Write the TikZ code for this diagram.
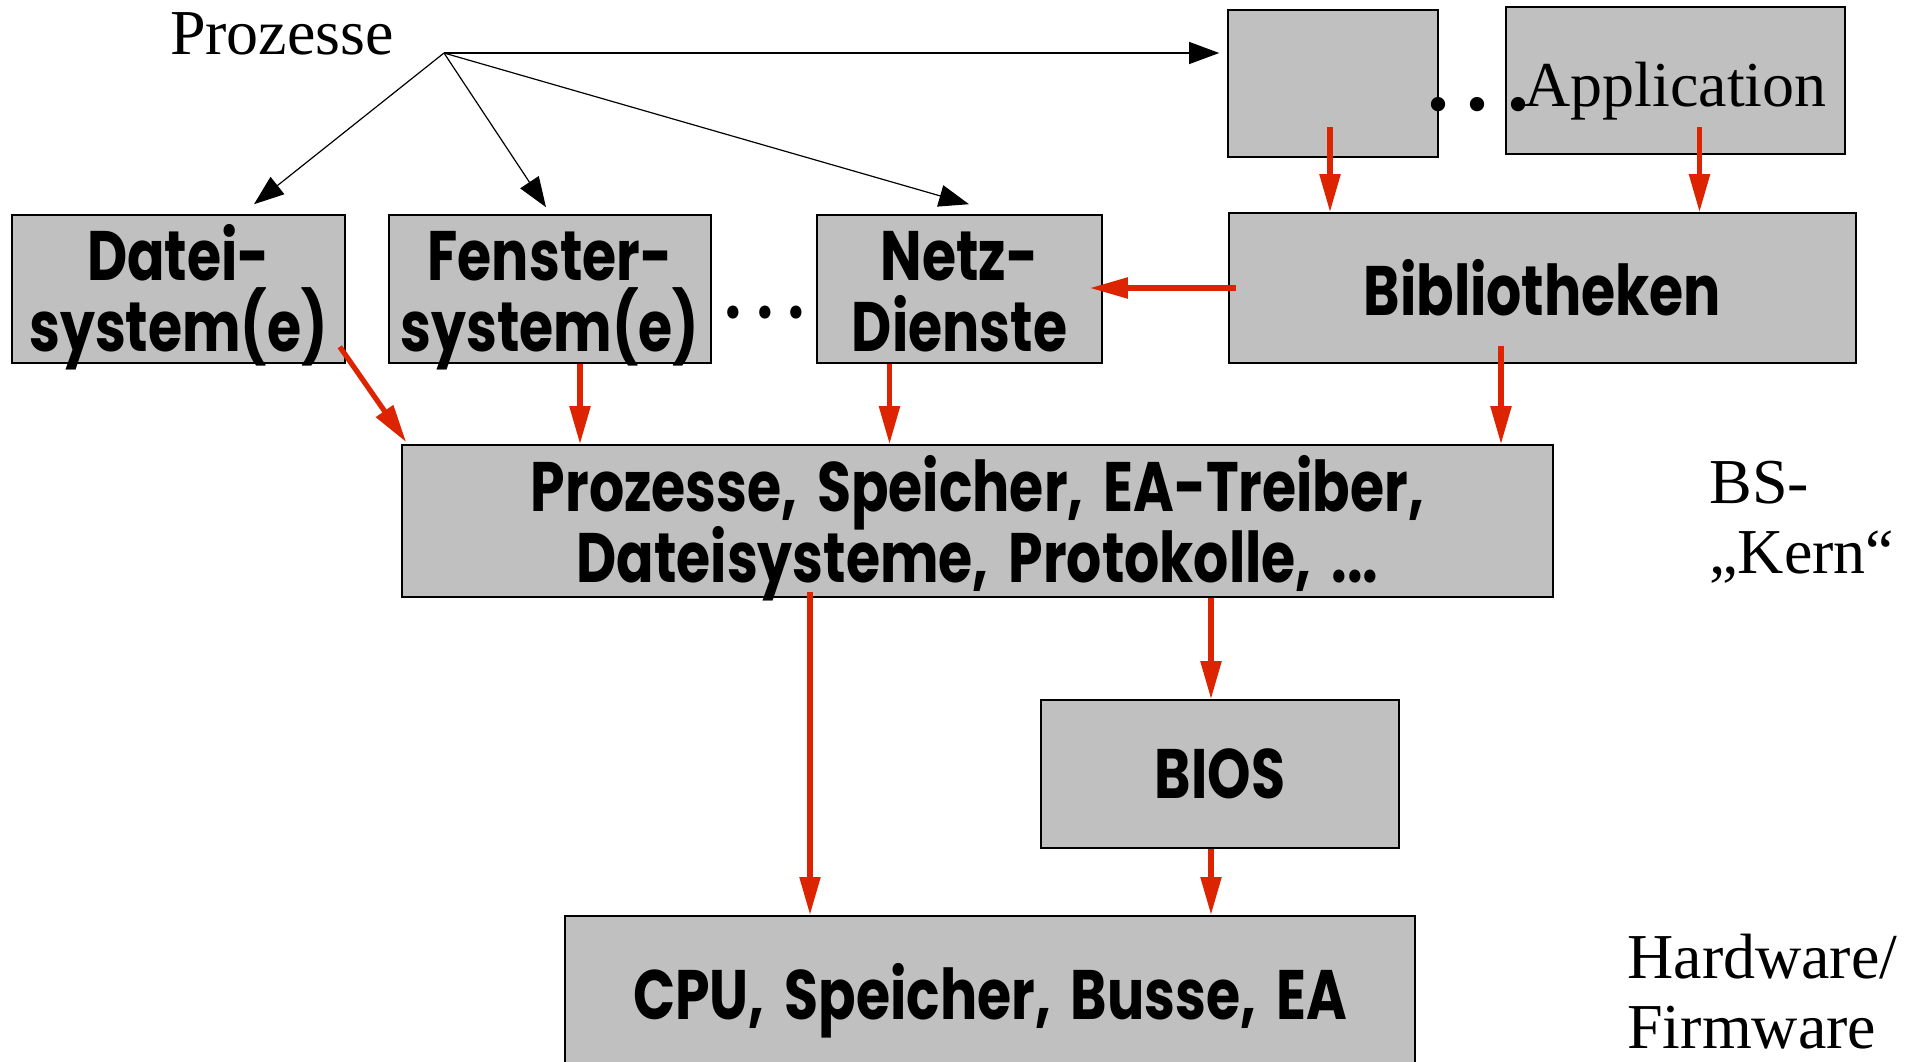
\documentclass[tikz,border=0pt]{standalone}
\usepackage{fontspec}
\setmainfont{Liberation Serif}
\newfontfamily\gothic{Poppins}[FakeStretch=0.79,WordSpace=1.7]
\usetikzlibrary{arrows.meta}
\definecolor{boxgray}{RGB}{192,192,192}
\definecolor{arrred}{RGB}{221,36,0}
% two centred lines with fixed baselines: #1 = top to first baseline, #2 = last baseline to bottom
\newcommand\twolines[4]{\rule{0pt}{#1}\smash{#3}\\\smash{#4}\rule[-#2]{0pt}{#2}}
\begin{document}
\begin{tikzpicture}[x=0.5pt,y=-0.5pt,
  box/.style={draw=black,line width=0.8pt,fill=boxgray,inner sep=0pt,align=center,
    font=\gothic\bfseries\fontsize{35}{35.5}\selectfont},
  serif/.style={inner sep=0pt,font=\fontsize{32}{35}\selectfont,align=left},
  rarrow/.style={draw=arrred,line width=2.6pt,-{Triangle[length=19pt,width=10pt]}},
  barrow/.style={draw=black,line width=0.6pt,-{Triangle[length=15pt,width=11pt]}}]
\useasboundingbox (0,0) rectangle (1918,1061);
% boxes
\node[box,minimum width=105pt,minimum height=73.5pt] (app1) at (1333,83.5) {};
\node[box,minimum width=169.5pt,minimum height=73.5pt,font=\fontsize{32}{35}\selectfont,
  text height=25.5pt,text depth=0pt] (app2) at (1675.5,80.5) {Application};
\node[box,minimum width=166.5pt,minimum height=74pt] (datei) at (178.5,289) {\twolines{32.5pt}{6pt}{Datei-}{system(e)}};
\node[box,minimum width=161pt,minimum height=74pt] (fenster) at (550,289) {\twolines{32.5pt}{6pt}{Fenster-}{system(e)}};
\node[box,minimum width=142.5pt,minimum height=74pt] (netz) at (959.5,289) {\twolines{32.5pt}{6pt}{Netz-}{Dienste}};
\node[box,minimum width=313.5pt,minimum height=75pt] (bib) at (1542.5,288) {Bibliotheken};
\node[box,minimum width=575.5pt,minimum height=76pt] (kern) at (977.5,521) {\twolines{33pt}{7.5pt}{Prozesse, Speicher, EA-Treiber,}{Dateisysteme, Protokolle, ...}};
\node[box,minimum width=179pt,minimum height=74pt] (bios) at (1220,774) {BIOS};
\node[box,minimum width=425pt,minimum height=85pt,anchor=north] (cpu) at (990,915) {\raisebox{7pt}{CPU, Speicher, Busse, EA}};
% serif texts
\node[serif] (proz) at (282,34) {Prozesse};
\node[inner sep=0pt,font=\bfseries\fontsize{44}{44}\selectfont] (dotsA) at (1478,105) {.\kern9pt.\kern9pt.};
\node[font=\gothic\bfseries\fontsize{35}{35}\selectfont,inner sep=0pt] (dotsB) at (765,313) {.\kern8pt.\kern8pt.};
\node[serif,anchor=west] (bs) at (1709,522) {BS-\\\char"201E Kern\char"201C};
\node[serif,anchor=west] (hw) at (1627,992) {Hardware/\\Firmware};
% black arrows
\coordinate (src) at (444,53);
\draw[barrow,shorten >=4pt] (src) -- (app1.west |- src);
\draw[barrow] (src) -- ([xshift=37.75pt,yshift=5pt]datei.north);
\draw[barrow] (src) -- ([xshift=-2pt,yshift=3.5pt]fenster.north);
\draw[barrow] (src) -- ([xshift=4.75pt,yshift=5pt]netz.north);
% red arrows
\draw[rarrow] ([xshift=-1.5pt,yshift=15.5pt]app1.south) -- ([xshift=-1.5pt]app1.south |- bib.north);
\draw[rarrow] ([xshift=12pt,yshift=14pt]app2.south) -- ([xshift=12pt]app2.south |- bib.north);
\draw[rarrow] ([xshift=4pt]bib.west) -- ([xshift=-6.5pt]netz.east |- bib.west);
\draw[rarrow] ([xshift=-3pt,yshift=8.5pt]datei.south east) -- ([xshift=2.5pt,yshift=1pt]kern.north west);
\draw[rarrow] ([xshift=15pt]fenster.south) -- ([xshift=15pt]fenster.south |- kern.north);
\draw[rarrow] ([xshift=-35pt]netz.south) -- ([xshift=-35pt]netz.south |- kern.north);
\draw[rarrow] ([xshift=-20.75pt,yshift=9pt]bib.south) -- ([xshift=-20.75pt]bib.south |- kern.north);
\draw[rarrow] ([xshift=-83.75pt,yshift=3pt]kern.south) -- ([xshift=-83.75pt]kern.south |- cpu.north);
\draw[rarrow] ([xshift=-4.5pt]bios.north |- kern.south) -- ([xshift=-4.5pt]bios.north);
\draw[rarrow] ([xshift=-4.5pt]bios.south) -- ([xshift=-4.5pt]bios.south |- cpu.north);
\end{tikzpicture}
\end{document}
